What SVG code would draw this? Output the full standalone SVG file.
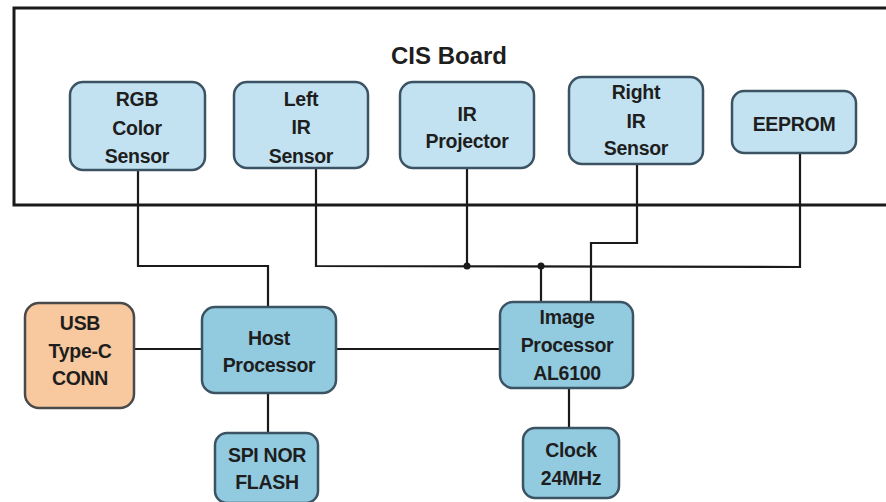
<svg xmlns="http://www.w3.org/2000/svg" width="886" height="502" viewBox="0 0 886 502">
<style>
text{font-family:"Liberation Sans",Arial,sans-serif;font-weight:bold;fill:#1e1e1e;text-anchor:middle;font-size:19.5px;letter-spacing:-0.3px}
.top{fill:#c3e2f1;stroke:#3b5363;stroke-width:2.5}
.bot{fill:#92cbe0;stroke:#3b5363;stroke-width:2.5}
.usb{fill:#f8c89e;stroke:#4a4a4a;stroke-width:2.5}
.w{fill:none;stroke:#1a1a1a;stroke-width:2.2}
</style>
<rect width="886" height="502" fill="#ffffff"/>
<g id="cis-board">
<rect x="14" y="8" width="890" height="197" fill="none" stroke="#1a1a1a" stroke-width="3"/>
<text x="449" y="64" style="font-size:24px;letter-spacing:0">CIS Board</text>
</g>
<g id="connectors">
<polyline class="w" points="138,170 138,266 268,266 268,307"/>
<polyline class="w" points="316,168 316,266 800,267 800,153"/>
<line class="w" x1="467" y1="168" x2="467" y2="266"/>
<line class="w" x1="541" y1="266" x2="541" y2="302"/>
<polyline class="w" points="637,164 637,243 591,243 591,302"/>
<line class="w" x1="134" y1="349" x2="202" y2="349"/>
<line class="w" x1="336" y1="349" x2="500" y2="349"/>
<line class="w" x1="268" y1="393" x2="268" y2="433"/>
<line class="w" x1="569" y1="388" x2="569" y2="428"/>
<circle cx="467" cy="266" r="3.5" fill="#1a1a1a"/>
<circle cx="541" cy="266" r="3.5" fill="#1a1a1a"/>
</g>
<g id="rgb-sensor">
<rect class="top" x="70" y="82" width="135" height="88" rx="13"/>
<text x="137" y="106">RGB</text><text x="137" y="135">Color</text><text x="137" y="163">Sensor</text>
</g>
<g id="left-ir-sensor">
<rect class="top" x="234" y="82" width="134" height="86" rx="13"/>
<text x="301" y="106">Left</text><text x="301" y="134">IR</text><text x="301" y="163">Sensor</text>
</g>
<g id="ir-projector">
<rect class="top" x="400" y="82" width="134" height="86" rx="13"/>
<text x="467" y="121">IR</text><text x="467" y="148">Projector</text>
</g>
<g id="right-ir-sensor">
<rect class="top" x="569" y="77" width="134" height="87" rx="13"/>
<text x="636" y="99">Right</text><text x="636" y="128">IR</text><text x="636" y="155">Sensor</text>
</g>
<g id="eeprom">
<rect class="top" x="732" y="91" width="124" height="62" rx="12"/>
<text x="794" y="131">EEPROM</text>
</g>
<g id="usb-conn">
<rect class="usb" x="25" y="303" width="109" height="105" rx="14"/>
<text x="80" y="330">USB</text><text x="80" y="358">Type-C</text><text x="80" y="385">CONN</text>
</g>
<g id="host-processor">
<rect class="bot" x="202" y="307" width="134" height="86" rx="13"/>
<text x="269" y="345">Host</text><text x="269" y="372">Processor</text>
</g>
<g id="image-processor">
<rect class="bot" x="500" y="302" width="133" height="86" rx="13"/>
<text x="567" y="324">Image</text><text x="567" y="352">Processor</text><text x="567" y="380">AL6100</text>
</g>
<g id="spi-nor-flash">
<rect class="bot" x="215" y="433" width="103" height="70" rx="12"/>
<text x="267" y="462">SPI NOR</text><text x="267" y="489">FLASH</text>
</g>
<g id="clock">
<rect class="bot" x="523" y="428" width="96" height="70" rx="12"/>
<text x="571" y="457">Clock</text><text x="571" y="485">24MHz</text>
</g>
</svg>
